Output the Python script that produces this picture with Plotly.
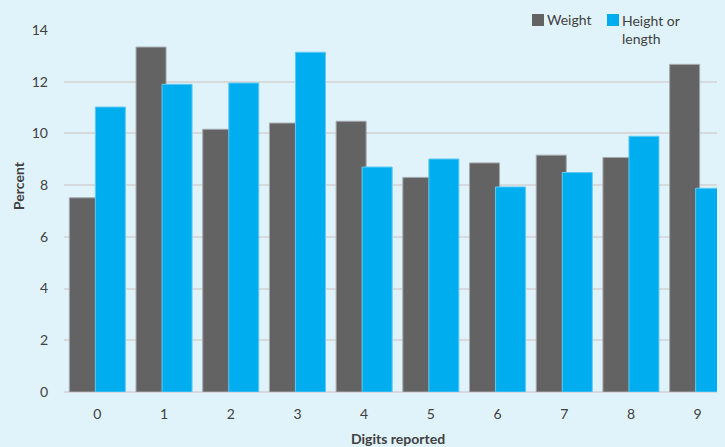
import plotly.graph_objects as go

digits = ["0", "1", "2", "3", "4", "5", "6", "7", "8", "9"]
weight = [7.51, 13.34, 10.16, 10.40, 10.47, 8.30, 8.86, 9.16, 9.07, 12.67]
height_length = [11.02, 11.90, 11.95, 13.14, 8.70, 9.01, 7.93, 8.49, 9.89, 7.88]
y_ticks = [0, 2, 4, 6, 8, 10, 12, 14]
series_names = ["Weight", "Height or<br>length"]
series_colors = ["#636363", "#00adef"]

BG = "#e0f3fb"
FONT = "Lato"
TXT = "#404040"

# page body has an 8px margin: figure is 8px smaller, placed at (8,8)
W, H = 717, 439
ML, MT, MB, MR = 56, 22, 55, 0
PW, PH = W - ML - MR, H - MT - MB


def px(xr):  # reference-pixel x -> paper
    return (xr - 8 - ML) / PW


def py(yr):  # reference-pixel y -> paper
    return 1 - (yr - 8 - MT) / PH


fig = go.Figure()
fig.add_trace(go.Bar(
    x=list(range(len(digits))), y=weight, name=series_names[0],
    marker=dict(color=series_colors[0], line=dict(color="#a4a8ab", width=1)),
    width=0.45, offset=-0.42,
))
fig.add_trace(go.Bar(
    x=list(range(len(digits))), y=height_length, name=series_names[1],
    marker=dict(color=series_colors[1], line=dict(color="#62caf2", width=1)),
    width=0.45, offset=-0.03,
))

shapes = [
    # legend background, hiding the top gridline behind it
    dict(type="rect", xref="paper", yref="paper", layer="above",
         x0=px(518), x1=px(689), y0=py(45), y1=py(10),
         fillcolor=BG, line=dict(width=0)),
    dict(type="rect", xref="paper", yref="paper", layer="above",
         x0=px(532), x1=px(544), y0=py(26), y1=py(14),
         fillcolor=series_colors[0], line=dict(width=0)),
    dict(type="rect", xref="paper", yref="paper", layer="above",
         x0=px(607), x1=px(619), y0=py(26), y1=py(14),
         fillcolor=series_colors[1], line=dict(width=0)),
]

annotations = [
    dict(text=series_names[0], xref="paper", yref="paper", x=px(545), y=py(20),
         xanchor="left", yanchor="middle", showarrow=False,
         font=dict(family=FONT, size=14, color=TXT)),
    dict(text=series_names[1], xref="paper", yref="paper", x=px(620), y=py(10),
         xanchor="left", yanchor="top", showarrow=False, align="left",
         font=dict(family=FONT, size=14, color=TXT)),
    dict(text="<b>Digits reported</b>", xref="paper", yref="paper", x=px(398), y=py(438),
         xanchor="center", yanchor="middle", showarrow=False,
         font=dict(family=FONT, size=14, color=TXT)),
    dict(text="<b>Percent</b>", xref="paper", yref="paper", x=px(18), y=py(186),
         xanchor="center", yanchor="middle", showarrow=False, textangle=-90,
         font=dict(family=FONT, size=14, color=TXT)),
]

fig.update_layout(
    width=W, height=H,
    margin=dict(l=ML, r=MR, t=MT, b=MB, pad=0),
    paper_bgcolor=BG, plot_bgcolor=BG,
    barmode="overlay",
    font=dict(family=FONT, size=14, color=TXT),
    showlegend=False,
    shapes=shapes,
    annotations=annotations,
    xaxis=dict(
        range=[-0.5, 9.41],
        tickmode="array", tickvals=list(range(len(digits))), ticktext=digits,
        showgrid=False, zeroline=False, showline=False,
        ticks="", ticklabelstandoff=12,
        fixedrange=True,
    ),
    yaxis=dict(
        range=[0, 14], tickmode="array", tickvals=y_ticks,
        showgrid=True, gridcolor="#d6dadd", gridwidth=1.5,
        zeroline=True, zerolinecolor="#d6dadd", zerolinewidth=2,
        showline=False, ticks="", ticklabelstandoff=15,
        fixedrange=True,
    ),
)

fig.write_html(
    "out.html",
    config={"displayModeBar": False},
    post_script="document.body.style.background='%s';"
                "document.documentElement.style.background='%s';" % (BG, BG),
)
